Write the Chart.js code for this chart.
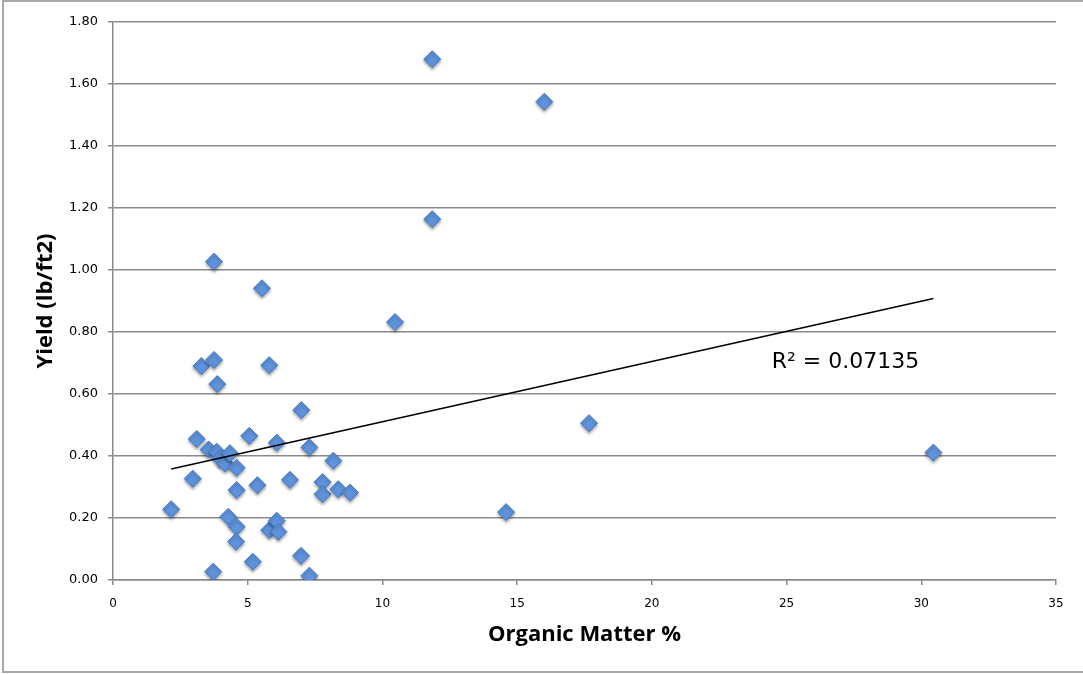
<!DOCTYPE html>
<html>
<head>
<meta charset="utf-8">
<script src="https://cdn.jsdelivr.net/npm/chart.js@4/dist/chart.umd.min.js"></script>
<style>
  html, body { margin: 0; padding: 0; background: #fff; }
  #wrap { width: 1083px; height: 674px; }
</style>
</head>
<body>
<div id="wrap"><canvas id="c" width="1083" height="674"></canvas></div>
<script>
// ---- data ----
const organicMatter = [2.16, 2.96, 3.11, 3.28, 3.75, 3.87, 3.75, 5.53, 5.80, 6.99,
  3.55, 3.85, 3.97, 4.16, 4.34, 4.59, 5.06, 6.08, 7.29, 8.18,
  4.59, 5.36, 6.57, 7.78, 7.78, 8.36, 8.80, 4.28, 4.59, 4.57,
  5.80, 6.08, 6.14, 5.19, 3.72, 6.98, 7.29, 11.85, 16.01, 11.85,
  10.47, 14.59, 17.67, 30.45];
const yieldValues = [0.228, 0.327, 0.455, 0.690, 0.710, 0.632, 1.027, 0.941, 0.693, 0.548,
  0.421, 0.414, 0.392, 0.376, 0.409, 0.362, 0.465, 0.443, 0.428, 0.385,
  0.290, 0.306, 0.323, 0.316, 0.277, 0.293, 0.282, 0.204, 0.172, 0.124,
  0.161, 0.191, 0.156, 0.059, 0.027, 0.078, 0.014, 1.680, 1.543, 1.164,
  0.832, 0.219, 0.506, 0.411];
const trendX = [2.16, 30.45];
const trendY = [0.358, 0.908];
const rSquaredText = 'R² = 0.07135';
const xTitle = 'Organic Matter %';
const yTitle = 'Yield (lb/ft2)';

const points = organicMatter.map((x, i) => ({ x: x, y: yieldValues[i] }));
const trend = trendX.map((x, i) => ({ x: x, y: trendY[i] }));

const framePlugin = {
  id: 'frame',
  beforeDraw(chart) {
    const ctx = chart.ctx;
    ctx.save();
    ctx.fillStyle = '#ffffff';
    ctx.fillRect(0, 0, chart.width, chart.height);
    ctx.strokeStyle = '#a8a8a8';
    ctx.lineWidth = 2;
    ctx.strokeRect(3, 1, chart.width + 20, 671);
    ctx.restore();
  }
};

const shadowPlugin = {
  id: 'shadow',
  beforeDatasetDraw(chart, args) {
    if (args.index === 1) {
      const ctx = chart.ctx;
      ctx.save();
      ctx.shadowColor = 'rgba(0,0,0,0.35)';
      ctx.shadowBlur = 3;
      ctx.shadowOffsetY = 2;
    }
  },
  afterDatasetDraw(chart, args) {
    if (args.index === 1) chart.ctx.restore();
  }
};

const labelPlugin = {
  id: 'rlabel',
  afterDatasetsDraw(chart, args, opts) {
    const ctx = chart.ctx;
    const xs = chart.scales.x, ys = chart.scales.y;
    ctx.save();
    ctx.font = '22px "DejaVu Sans"';
    ctx.fillStyle = '#000';
    ctx.textBaseline = 'alphabetic';
    ctx.textAlign = 'left';
    ctx.fillText(opts.text, xs.getPixelForValue(opts.x), ys.getPixelForValue(opts.y));
    ctx.restore();
  }
};

new Chart(document.getElementById('c'), {
  type: 'scatter',
  data: {
    datasets: [
      {
        type: 'line',
        data: trend,
        borderColor: '#000000',
        borderWidth: 1.5,
        pointRadius: 0,
        fill: false,
        order: 0
      },
      {
        data: points,
        pointStyle: 'rectRot',
        pointRadius: 8.5,
        pointBackgroundColor: '#5e92db',
        pointBorderColor: '#4a7bc2',
        pointBorderWidth: 1,
        order: 1
      }
    ]
  },
  options: {
    responsive: false,
    animation: false,
    layout: { padding: { left: 10, top: 22, right: 27, bottom: 0 } },
    plugins: {
      legend: { display: false },
      tooltip: { enabled: false },
      rlabel: { text: rSquaredText, x: 24.45, y: 0.684 }
    },
    scales: {
      x: {
        type: 'linear',
        min: 0, max: 35,
        afterFit(s) { s.height = 94; },
        ticks: {
          stepSize: 5,
          padding: 12,
          color: '#000',
          font: { family: '"DejaVu Sans"', size: 12 },
          callback: v => String(v)
        },
        grid: { drawOnChartArea: false, drawTicks: true, tickLength: 5, color: '#8a8a8a', lineWidth: 1.5 },
        border: { color: '#8a8a8a', width: 1.5 },
        title: {
          display: true,
          text: xTitle,
          color: '#000',
          font: { family: '"Open Sans"', size: 22, weight: 'bold' },
          padding: { top: 0, bottom: 26 }
        }
      },
      y: {
        type: 'linear',
        min: 0, max: 1.8,
        afterFit(s) { s.width = 103; },
        ticks: {
          stepSize: 0.2,
          padding: 10,
          color: '#000',
          font: { family: '"DejaVu Sans"', size: 13 },
          callback: v => Number(v).toFixed(2)
        },
        grid: { drawTicks: true, tickLength: 5, color: '#8a8a8a', lineWidth: 1.5 },
        border: { color: '#8a8a8a', width: 1.5 },
        title: {
          display: true,
          text: yTitle,
          color: '#000',
          font: { family: '"Open Sans"', size: 22, weight: 'bold' },
          padding: { top: 23, bottom: 0 }
        }
      }
    }
  },
  plugins: [framePlugin, shadowPlugin, labelPlugin]
});
</script>
</body>
</html>
